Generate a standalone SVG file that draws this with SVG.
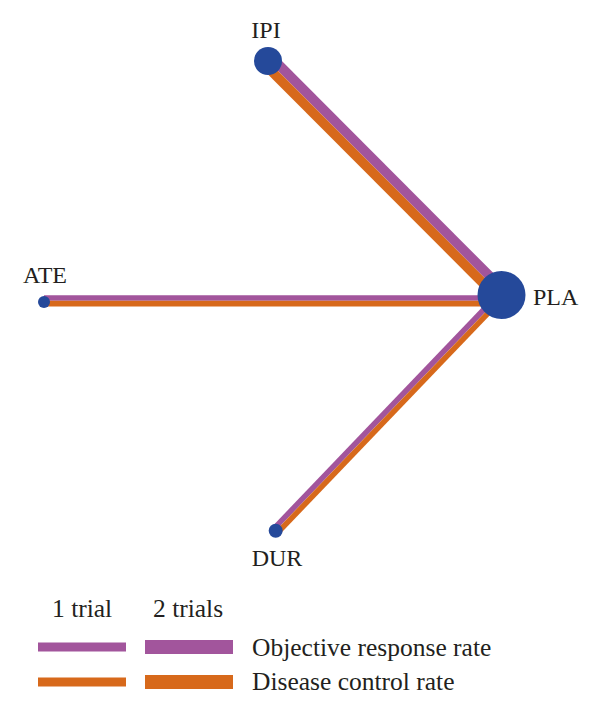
<svg xmlns="http://www.w3.org/2000/svg" width="600" height="712" viewBox="0 0 600 712">
<style>
.t{font-family:"Liberation Serif","Times New Roman",serif;fill:#231f20}
.n{font-size:24px}
.lg{font-size:25.5px}
.p{stroke:#A2559C;fill:none}
.o{stroke:#D7691B;fill:none}
.node{fill:#25499A}
</style>
<rect width="600" height="712" fill="#fff"/>
<g id="connectors">
<line class="p" x1="271.5" y1="57.5" x2="505" y2="291.5" stroke-width="9.6"/>
<line class="o" x1="264.7" y1="64.3" x2="498.2" y2="298.3" stroke-width="9.6"/>
<line class="p" x1="44" y1="298" x2="501" y2="298" stroke-width="5.7"/>
<line class="o" x1="44" y1="303.7" x2="501" y2="303.7" stroke-width="5.7"/>
<line class="p" x1="273.7" y1="528.8" x2="499.7" y2="293" stroke-width="5.5"/>
<line class="o" x1="277.7" y1="532.6" x2="503.7" y2="296.8" stroke-width="5.5"/>
</g>
<g id="IPI"><circle class="node" cx="268" cy="61" r="14"/><text class="t n" x="266" y="38" text-anchor="middle">IPI</text></g>
<g id="PLA"><circle class="node" cx="501.5" cy="295" r="24"/><text class="t n" x="533" y="305">PLA</text></g>
<g id="ATE"><circle class="node" cx="44" cy="302" r="6"/><text class="t n" x="45" y="283" text-anchor="middle">ATE</text></g>
<g id="DUR"><circle class="node" cx="275.7" cy="530.7" r="7"/><text class="t n" x="277" y="566" text-anchor="middle">DUR</text></g>
<g id="legend">
<text class="t lg" x="52" y="617">1 trial</text>
<text class="t lg" x="153" y="617">2 trials</text>
<rect x="38" y="642.5" width="88" height="9" fill="#A2559C"/>
<rect x="145" y="640" width="88" height="14" fill="#A2559C"/>
<rect x="38" y="677.5" width="88" height="9" fill="#D7691B"/>
<rect x="145" y="675" width="88" height="14" fill="#D7691B"/>
<text class="t lg" x="252" y="656">Objective response rate</text>
<text class="t lg" x="252" y="690">Disease control rate</text>
</g>
</svg>
